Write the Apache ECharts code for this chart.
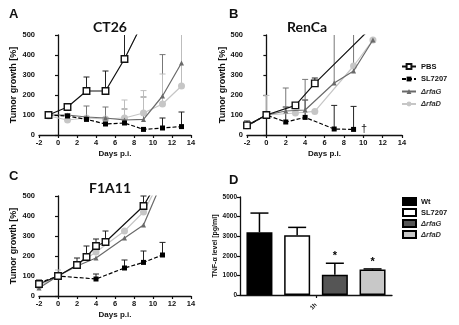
<!DOCTYPE html>
<html><head><meta charset="utf-8">
<script src="https://cdn.jsdelivr.net/npm/echarts@6/dist/echarts.min.js"></script>
<style>html,body{margin:0;padding:0;background:#fff}#c{width:459px;height:325px}</style>
</head><body><div id="c"></div>
<script>
// ---------- DATA ----------
var seriesNames = ['PBS', 'SL7207', '\u0394rfaG', '\u0394rfaD'];
var dayTicks = [-2, 0, 2, 4, 6, 8, 10, 12, 14];
var growthTicks = [0, 100, 200, 300, 400, 500];

// Panel A: CT26
var A_PBS_days = [-1, 1, 3, 5, 7, 9];
var A_PBS = [100, 140, 220, 220, 380, 570];
var A_PBS_err = [null, null, 290, 320, 560, null];
var A_SL_days = [-1, 1, 3, 5, 7, 9, 11, 13];
var A_SL = [100, 95, 78, 55, 60, 28, 35, 42];
var A_SL_err = [null, 105, null, null, null, null, 85, 115];
var A_G_days = [-1, 1, 3, 5, 7, 9, 11, 13];
var A_G = [100, 100, 90, 85, 75, 78, 195, 360];
var A_G_err = [null, null, 145, 140, 130, 190, 402, 560];
var A_D_days = [-1, 1, 3, 5, 7, 9, 11, 13];
var A_D = [95, 75, 85, 80, 85, 110, 155, 245];
var A_D_err = [null, null, null, null, 175, 222, 305, 560];

// Panel B: RenCa
var B_PBS_days = [-2, 0, 3, 5, 11];
var B_PBS = [48, 100, 148, 258, 545];
var B_PBS_err = [null, null, null, 285, null];
var B_SL_days = [-2, 0, 2, 4, 7, 9];
var B_SL = [45, 100, 65, 88, 30, 28];
var B_SL_err = [70, null, 140, 175, 148, 143];
var B_G_days = [-2, 0, 2, 4, 7, 9, 11];
var B_G = [45, 100, 120, 125, 260, 320, 475];
var B_G_err = [null, null, 235, 278, 560, 560, null];
var B_D_days = [-2, 0, 3, 5, 9, 11];
var B_D = [45, 100, 110, 118, 345, 475];
var B_D_err = [null, 198, null, null, null, null];

// Panel C: F1A11
var C_PBS_days = [-2, 0, 2, 3, 4, 5, 9, 11];
var C_PBS = [60, 100, 155, 195, 250, 270, 450, 616];
var C_PBS_err = [null, null, 190, 250, 285, 325, 500, null];
var C_SL_days = [-2, 0, 4, 7, 9, 11];
var C_SL = [65, 100, 85, 140, 168, 205];
var C_SL_err = [80, null, 110, 180, 225, 268];
var C_G_days = [-2, 0, 2, 4, 7, 9, 11];
var C_G = [40, 100, 150, 190, 290, 355, 577];
var C_G_err = [null, null, null, null, null, null, null];
var C_D_days = [-2, 0, 2, 4, 7, 9, 11];
var C_D = [50, 100, 155, 220, 325, 420, 600];
var C_D_err = [null, 130, null, null, null, null, null];

// Panel D: TNF-alpha
var D_category = ['1h'];
var D_groups = ['Wt', 'SL7207', '\u0394rfaG', '\u0394rfaD'];
var D_values = [3200, 3050, 1030, 1300];
var D_err = [4180, 3450, 1620, 1330];
var D_star = [false, false, true, true];
var tnfTicks = [0, 1000, 2000, 3000, 4000, 5000];

// ---------- STYLE ----------
var FONT = '"Liberation Sans", Arial, sans-serif';
var lineColors = ['#111', '#000', '#6a6a6a', '#c6c6c6'];
var errColors = ['#222', '#222', '#777', '#bdbdbd'];
var symbols = ['rect', 'rect', 'triangle', 'circle'];
var symbolSizes = [6.5, 5, 5, 7];
var lineTypes = ['solid', [4, 2], 'solid', 'solid'];
var barColors = ['#000', '#fff', '#555', '#c8c8c8'];

var grids = [
  {left: 39, top: 35, width: 152, height: 100},
  {left: 247, top: 35, width: 155, height: 100},
  {left: 39, top: 196, width: 152, height: 100},
  {left: 240, top: 197, width: 152, height: 98}
];

function xAxisDays(gi) {
  return {
    type: 'value', gridIndex: gi, min: -2, max: 14, interval: 2,
    name: 'Days p.i.', nameLocation: 'middle', nameGap: 15,
    nameTextStyle: {fontFamily: FONT, fontWeight: 'bold', fontSize: 8, color: '#111'},
    axisLine: {show: true, onZero: false, lineStyle: {color: '#111', width: 1.3}},
    axisTick: {show: true, length: 3, lineStyle: {color: '#111', width: 1.2}},
    axisLabel: {fontFamily: FONT, fontWeight: 'bold', fontSize: 7.5, color: '#111', margin: 4},
    splitLine: {show: false}
  };
}
function yAxisGrowth(gi, gap) {
  return {
    type: 'value', gridIndex: gi, min: 0, max: 500, interval: 100,
    name: 'Tumor growth [%]', nameLocation: 'middle', nameGap: gap,
    nameTextStyle: {fontFamily: FONT, fontWeight: 'bold', fontSize: 9, color: '#111'},
    axisLine: {show: true, lineStyle: {color: '#111', width: 1.3}},
    axisTick: {show: true, length: 3, lineStyle: {color: '#111', width: 1.2}},
    axisLabel: {fontFamily: FONT, fontWeight: 'bold', fontSize: 7.5, color: '#111', margin: 4},
    splitLine: {show: false}
  };
}

function pairs(days, vals) {
  return days.map(function (d, i) { return [d, vals[i]]; });
}
function errData(days, vals, errs) {
  var out = [];
  days.forEach(function (d, i) { if (errs[i] != null) out.push([d, vals[i], errs[i]]); });
  return out;
}
function errRender(color) {
  return function (params, api) {
    var x = api.value(0), v = api.value(1), u = api.value(2);
    var p0 = api.coord([x, v]), p1 = api.coord([x, u]);
    var cs = params.coordSys;
    var clipped = p1[1] < cs.y;
    var y1 = Math.max(p1[1], cs.y);
    var ch = [{type: 'line', shape: {x1: p0[0], y1: p0[1], x2: p0[0], y2: y1}, style: {stroke: color, lineWidth: 1}}];
    if (!clipped) ch.push({type: 'line', shape: {x1: p0[0] - 3, y1: y1, x2: p0[0] + 3, y2: y1}, style: {stroke: color, lineWidth: 1}});
    return {type: 'group', children: ch};
  };
}

var panels = [
  [[A_PBS_days, A_PBS, A_PBS_err], [A_SL_days, A_SL, A_SL_err], [A_G_days, A_G, A_G_err], [A_D_days, A_D, A_D_err]],
  [[B_PBS_days, B_PBS, B_PBS_err], [B_SL_days, B_SL, B_SL_err], [B_G_days, B_G, B_G_err], [B_D_days, B_D, B_D_err]],
  [[C_PBS_days, C_PBS, C_PBS_err], [C_SL_days, C_SL, C_SL_err], [C_G_days, C_G, C_G_err], [C_D_days, C_D, C_D_err]]
];

var series = [];
panels.forEach(function (panel, gi) {
  panel.forEach(function (s, si) {
    series.push({
      type: 'custom', xAxisIndex: gi, yAxisIndex: gi, z: 1, silent: true,
      renderItem: errRender(errColors[si]), data: errData(s[0], s[1], s[2])
    });
  });
  [3, 2, 1, 0].forEach(function (si) {
    var s = panel[si];
    var data = pairs(s[0], s[1]);
    if (gi === 1 && si === 1) {
      var last = data[data.length - 1];
      data[data.length - 1] = {value: last, label: {show: true, formatter: '\u2020', position: 'right', distance: 5,
        fontFamily: FONT, fontSize: 11, color: '#111'}};
    }
    series.push({
      type: 'line', name: seriesNames[si], xAxisIndex: gi, yAxisIndex: gi, z: 2 + (3 - si),
      data: data, clip: true, animation: false,
      symbol: symbols[si], symbolSize: symbolSizes[si], showAllSymbol: true,
      lineStyle: {color: lineColors[si], width: 1.2, type: lineTypes[si]},
      itemStyle: {color: si === 0 ? '#fff' : lineColors[si], borderColor: lineColors[si], borderWidth: si === 0 ? 1.4 : 0},
      emphasis: {disabled: true}
    });
  });
});

// Panel D bars
var barWidth = 26, barGapRatio = 0.45;
D_groups.forEach(function (g, i) {
  series.push({
    type: 'bar', name: i === 0 ? g : g + ' ', xAxisIndex: 3, yAxisIndex: 3,
    data: [D_values[i]], barWidth: barWidth, barGap: (barGapRatio * 100) + '%',
    itemStyle: {color: barColors[i], borderColor: '#000', borderWidth: 1.5},
    emphasis: {disabled: true}, animation: false, z: 2
  });
});
var D_errData = D_groups.map(function (g, i) { return [0, D_values[i], D_err[i], i, D_star[i] ? 1 : 0]; });
series.push({
  type: 'custom', xAxisIndex: 3, yAxisIndex: 3, z: 3, silent: true, data: D_errData,
  renderItem: function (params, api) {
    var v = api.value(1), u = api.value(2), idx = api.value(3), star = api.value(4);
    var step = barWidth * (1 + barGapRatio);
    var base = api.coord([0, v]);
    var top = api.coord([0, u]);
    var cx = base[0] + (idx - 1.5) * step;
    var ch = [
      {type: 'line', shape: {x1: cx, y1: base[1], x2: cx, y2: top[1]}, style: {stroke: '#000', lineWidth: 1.5}},
      {type: 'line', shape: {x1: cx - 9, y1: top[1], x2: cx + 9, y2: top[1]}, style: {stroke: '#000', lineWidth: 1.5}}
    ];
    if (star) ch.push({type: 'text', x: cx, y: top[1] - 7, style: {text: '*', fontFamily: FONT, fontWeight: 'bold', fontSize: 11, fill: '#000', align: 'center', verticalAlign: 'middle'}});
    return {type: 'group', children: ch};
  }
});

var titleStyle = {fontFamily: 'Lato, "Liberation Sans", sans-serif', fontWeight: 'bold', fontSize: 14, color: '#111'};
var letterStyle = {fontFamily: FONT, fontWeight: 'bold', fontSize: 13, color: '#111'};

var option = {
  animation: false,
  backgroundColor: '#fff',
  title: [
    {text: 'CT26', left: 110, top: 20, textAlign: 'center', padding: 0, textStyle: titleStyle},
    {text: 'RenCa', left: 307, top: 20, textAlign: 'center', padding: 0, textStyle: titleStyle},
    {text: 'F1A11', left: 110, top: 181, textAlign: 'center', padding: 0, textStyle: titleStyle},
    {text: 'A', left: 9, top: 8, padding: 0, textStyle: letterStyle},
    {text: 'B', left: 229, top: 8, padding: 0, textStyle: letterStyle},
    {text: 'C', left: 9, top: 170, padding: 0, textStyle: letterStyle},
    {text: 'D', left: 229, top: 174, padding: 0, textStyle: letterStyle}
  ],
  legend: [
    {
      data: seriesNames, orient: 'vertical', left: 401, top: 62, padding: 0,
      itemWidth: 14, itemHeight: 6, itemGap: 3.5, selectedMode: false,
      formatter: function (n) { return n.charAt(0) === '\u0394' ? '{i|' + n + '}' : n; },
      textStyle: {fontFamily: FONT, fontWeight: 'bold', fontSize: 7.5, color: '#111', lineHeight: 9,
        rich: {i: {fontFamily: FONT, fontStyle: 'italic', fontSize: 7.5, color: '#333', lineHeight: 9}}}
    },
    {
      data: D_groups.map(function (g, i) { return i === 0 ? g : g + ' '; }),
      orient: 'vertical', left: 402, top: 197, padding: 0,
      itemWidth: 13, itemHeight: 7, itemGap: 2, selectedMode: false, icon: 'rect',
      formatter: function (n) { n = n.trim(); return n.charAt(0) === '\u0394' ? '{i|' + n + '}' : n; },
      textStyle: {fontFamily: FONT, fontWeight: 'bold', fontSize: 7.5, color: '#111', lineHeight: 9,
        rich: {i: {fontFamily: FONT, fontStyle: 'italic', fontSize: 7.5, color: '#333', lineHeight: 9}}}
    }
  ],
  grid: grids.map(function (g) { return Object.assign({containLabel: false}, g); }),
  xAxis: [
    xAxisDays(0), xAxisDays(1), xAxisDays(2),
    {
      type: 'category', gridIndex: 3, data: D_category,
      axisLine: {show: true, lineStyle: {color: '#111', width: 1.3}},
      axisTick: {show: true, alignWithLabel: true, length: 3, lineStyle: {color: '#111', width: 1.2}},
      axisLabel: {fontFamily: FONT, fontWeight: 'bold', fontSize: 6, color: '#111', rotate: 45, margin: 9}
    }
  ],
  yAxis: [
    yAxisGrowth(0, 21), yAxisGrowth(1, 14), yAxisGrowth(2, 21),
    {
      type: 'value', gridIndex: 3, min: 0, max: 5000, interval: 1000,
      name: 'TNF-\u03b1 level [pg/ml]', nameLocation: 'middle', nameGap: 20,
      nameTextStyle: {fontFamily: FONT, fontWeight: 'bold', fontSize: 7, color: '#111'},
      axisLine: {show: true, lineStyle: {color: '#111', width: 1.3}},
      axisTick: {show: true, length: 3, lineStyle: {color: '#111', width: 1.2}},
      axisLabel: {fontFamily: FONT, fontWeight: 'bold', fontSize: 6.5, color: '#111', margin: 3,
        formatter: function (v) { return String(v); }},
      splitLine: {show: false}
    }
  ],
  series: series
};
var chart = echarts.init(document.getElementById('c'), null, {renderer: 'canvas'});
chart.setOption(option);
</script></body></html>
